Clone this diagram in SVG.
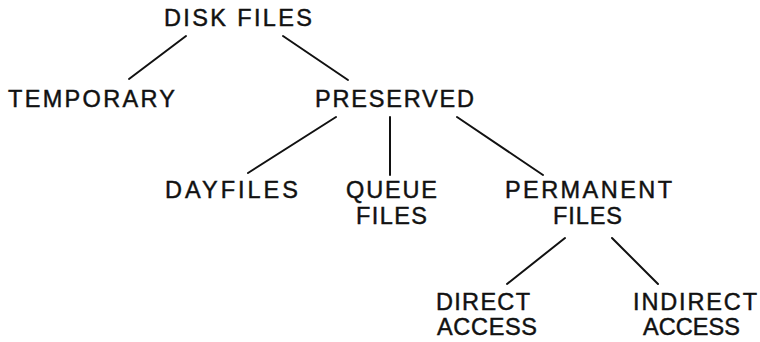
<svg xmlns="http://www.w3.org/2000/svg" width="760" height="342" viewBox="0 0 760 342">
<style>
text{font-family:"Liberation Sans",Arial,sans-serif;font-size:23.5px;fill:#111;stroke:#111;stroke-width:0.45;}
.c line{stroke:#111;stroke-width:2;stroke-linecap:round;}
</style>
<rect width="760" height="342" fill="#fff"/>
<g class="c" id="connectors">
<line x1="186" y1="36" x2="129" y2="79"/>
<line x1="283" y1="36" x2="348" y2="80"/>
<line x1="336" y1="117" x2="248" y2="173"/>
<line x1="390" y1="117" x2="390" y2="175"/>
<line x1="457" y1="117" x2="543" y2="175"/>
<line x1="565" y1="238" x2="507" y2="284"/>
<line x1="612" y1="238" x2="658" y2="284"/>
</g>
<g id="disk-files"><text x="164" y="26" textLength="148" lengthAdjust="spacing">DISK FILES</text></g>
<g id="temporary"><text x="8" y="107" textLength="167" lengthAdjust="spacing">TEMPORARY</text></g>
<g id="preserved"><text x="315" y="107" textLength="159" lengthAdjust="spacing">PRESERVED</text></g>
<g id="dayfiles"><text x="165" y="198" textLength="133" lengthAdjust="spacing">DAYFILES</text></g>
<g id="queue-files"><text x="346" y="198" textLength="91" lengthAdjust="spacing">QUEUE</text><text x="356" y="224" textLength="71" lengthAdjust="spacing">FILES</text></g>
<g id="permanent-files"><text x="505" y="198" textLength="167" lengthAdjust="spacing">PERMANENT</text><text x="553" y="224" textLength="69" lengthAdjust="spacing">FILES</text></g>
<g id="direct-access"><text x="436" y="310" textLength="94" lengthAdjust="spacing">DIRECT</text><text x="437" y="335" textLength="100" lengthAdjust="spacing">ACCESS</text></g>
<g id="indirect-access"><text x="633" y="310" textLength="124" lengthAdjust="spacing">INDIRECT</text><text x="643" y="335" textLength="97" lengthAdjust="spacing">ACCESS</text></g>
</svg>
